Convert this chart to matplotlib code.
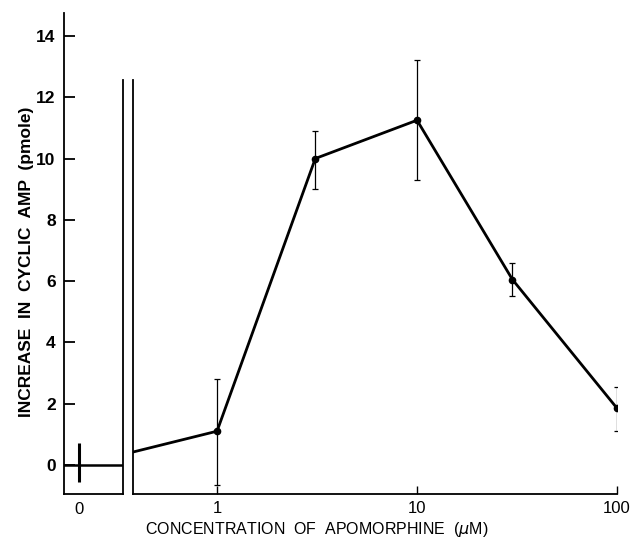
import matplotlib
matplotlib.use("Agg")
import matplotlib.pyplot as plt

plt.rcParams['font.family'] = ['Liberation Sans', 'DejaVu Sans']

# 対照 (0 µM)
ctrl_x = [0]
ctrl_y = [0.0]
ctrl_lo = [-0.55]
ctrl_hi = [0.7]

# アポモルフィン濃度 (µM) と cAMP 増加量
conc = [1, 3.1, 10, 30, 100]
camp = [1.1, 10.0, 11.25, 6.05, 1.85]
camp_lo = [-0.65, 9.0, 9.3, 5.5, 1.1]
camp_hi = [2.8, 10.9, 13.2, 6.6, 2.55]

# 軸の切れ目から最初の点への線
break_x = [0.38, 1]
break_y = [0.42, 1.1]

yticks = [0, 2, 4, 6, 8, 10, 12, 14]
xticks = [1, 10, 100]
xticklabels = ['1', '10', '100']

W, H = 635, 539
fig = plt.figure(figsize=(W / 100, H / 100), dpi=100)

bot = 1 - 494 / H
top = 1 - 13 / H
ax1 = fig.add_axes([64 / W, bot, (123 - 64) / W, top - bot])
ax2 = fig.add_axes([133 / W, bot, (617 - 133) / W, top - bot])

ylo, yhi = -0.95, 14.75
brk_top = 12.55

# 左側 (0)
ax1.plot([-0.25, 0.75], [ctrl_y[0], ctrl_y[0]], color='black', lw=1.8)
ax1.errorbar(ctrl_x, ctrl_y,
             yerr=[[ctrl_y[0] - ctrl_lo[0]], [ctrl_hi[0] - ctrl_y[0]]],
             fmt='none', ecolor='black', elinewidth=2.2, capsize=0)
ax1.set_xlim(-0.25, 0.75)
ax1.set_ylim(ylo, yhi)
ax1.spines['top'].set_visible(False)
ax1.spines['right'].set_bounds(ylo, brk_top)
for s in ax1.spines.values():
    s.set_linewidth(1.3)
ax1.set_xticks([0])
ax1.set_xticklabels(['0'], fontsize=12)
ax1.tick_params(axis='x', length=0, pad=6)
ax1.set_yticks(yticks)
ax1.set_yticklabels([str(v) for v in yticks], fontsize=12.5, fontweight='bold')
ax1.tick_params(axis='y', direction='in', length=8, width=1.3, pad=6)
ax1.set_ylabel('INCREASE  IN  CYCLIC  AMP  (pmole)', fontsize=12.5,
               fontweight='bold')
ax1.yaxis.set_label_coords(-0.5, 0.482)

# 右側 (対数軸)
ax2.set_xscale('log')
ax2.plot(break_x, break_y, color='black', lw=2.0)
ax2.plot(conc, camp, color='black', lw=2.0, marker='o', markersize=4.5)
err_lo = [c - l for c, l in zip(camp, camp_lo)]
err_hi = [h - c for c, h in zip(camp, camp_hi)]
ax2.errorbar(conc, camp, yerr=[err_lo, err_hi], fmt='none', ecolor='black',
             elinewidth=0.9, capsize=2.5, capthick=0.9)
ax2.set_xlim(0.38, 100)
ax2.set_ylim(ylo, yhi)
ax2.spines['top'].set_visible(False)
ax2.spines['right'].set_visible(False)
ax2.spines['left'].set_bounds(ylo, brk_top)
for s in ax2.spines.values():
    s.set_linewidth(1.3)
ax2.set_yticks([])
ax2.set_xticks(xticks)
ax2.set_xticklabels(xticklabels, fontsize=12)
ax2.minorticks_off()
ax2.tick_params(axis='x', direction='in', length=6, width=1.0, pad=5)
ax2.set_xlabel('CONCENTRATION  OF  APOMORPHINE  ($\\mu$M)', fontsize=11.5,
               labelpad=1)
ax2.xaxis.set_label_coords(0.38, -0.055)

fig.savefig('out.png', dpi=100)
